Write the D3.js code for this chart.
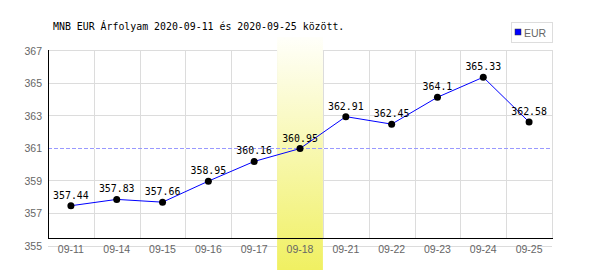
<!DOCTYPE html>
<html><head><meta charset="utf-8">
<script src="https://cdn.jsdelivr.net/npm/d3@7"></script>
<style>body{margin:0;background:#fff}svg{display:block}</style>
</head><body>
<script>
const titleText = "MNB EUR Árfolyam 2020-09-11 és 2020-09-25 között.";
const categories = ["09-11","09-14","09-15","09-16","09-17","09-18","09-21","09-22","09-23","09-24","09-25"];
const values = [357.44,357.83,357.66,358.95,360.16,360.95,362.91,362.45,364.1,365.33,362.58];
const valueLabels = ["357.44","357.83","357.66","358.95","360.16","360.95","362.91","362.45","364.1","365.33","362.58"];
const yTicks = [355,357,359,361,363,365,367];
const averageValue = 360.94;
const highlighted = "09-18";
const seriesName = "EUR";

const W = 600, H = 270;
const plotLeft = 48, plotRight = 552, plotTop = 50, axisY = 238;
const svg = d3.select("body").append("svg").attr("width", W).attr("height", H);

const defs = svg.append("defs");
const grad = defs.append("linearGradient").attr("id","hl").attr("x1",0).attr("y1",0).attr("x2",0).attr("y2",1);
grad.append("stop").attr("offset","0%").attr("stop-color","#fffffa");
grad.append("stop").attr("offset","100%").attr("stop-color","#f0f062");

const x = d3.scaleBand().domain(categories).range([plotLeft, plotRight]).padding(0);
const y = d3.scaleLinear().domain([355, 367]).range([245.5, plotTop]);

// title
svg.append("text").attr("x", 53).attr("y", 29.5)
  .attr("font-family","DejaVu Sans Mono, monospace").attr("font-size", 9.9)
  .attr("fill","#000").text(titleText);

// legend
const lg = svg.append("g");
lg.append("rect").attr("x",511.5).attr("y",22.5).attr("width",41).attr("height",20)
  .attr("fill","#fff").attr("stroke","#dddddd").attr("shape-rendering","crispEdges");
lg.append("rect").attr("x",515).attr("y",29).attr("width",6).attr("height",6)
  .attr("fill","#0000ff").attr("stroke","#333").attr("stroke-width",0.5);
lg.append("text").attr("x",524).attr("y",36.5)
  .attr("font-family","Liberation Sans, Arial, sans-serif").attr("font-size",10.5)
  .attr("fill","#666").text(seriesName);

// gridlines
const grid = svg.append("g").attr("stroke","#dcdcdc").attr("stroke-width",1).attr("shape-rendering","crispEdges");
grid.selectAll("line.h").data(yTicks).join("line")
  .attr("x1", plotLeft).attr("x2", plotRight)
  .attr("y1", d => Math.round(y(d)) + 0.5).attr("y2", d => Math.round(y(d)) + 0.5);
const vx = categories.map(c => x(c)).concat([plotRight]);
grid.selectAll("line.v").data(vx).join("line")
  .attr("x1", d => Math.round(d) + 0.5).attr("x2", d => Math.round(d) + 0.5)
  .attr("y1", plotTop).attr("y2", axisY);

// highlight band
svg.append("rect").attr("x", x(highlighted)).attr("y", 37)
  .attr("width", x.bandwidth()).attr("height", H - 37).attr("fill","url(#hl)");

// average dashed line (on a white backing so the gaps are clear)
const avgY = Math.floor(y(averageValue)) + 0.5;
svg.append("line").attr("x1", plotLeft).attr("x2", x(highlighted))
  .attr("y1", avgY).attr("y2", avgY).attr("stroke","#fff").attr("shape-rendering","crispEdges");
svg.append("line").attr("x1", x(highlighted) + x.bandwidth()).attr("x2", plotRight)
  .attr("y1", avgY).attr("y2", avgY).attr("stroke","#fff").attr("shape-rendering","crispEdges");
svg.append("line").attr("x1", plotLeft).attr("x2", plotRight)
  .attr("y1", avgY).attr("y2", avgY)
  .attr("stroke","#9999ff").attr("stroke-dasharray","4,2").attr("shape-rendering","crispEdges");

// axes
svg.append("line").attr("x1", plotLeft + 0.5).attr("x2", plotLeft + 0.5).attr("y1", plotTop).attr("y2", axisY + 1)
  .attr("stroke","#000").attr("shape-rendering","crispEdges");
svg.append("line").attr("x1", plotLeft).attr("x2", plotRight + 1).attr("y1", axisY + 0.5).attr("y2", axisY + 0.5)
  .attr("stroke","#000").attr("shape-rendering","crispEdges");

// y tick labels
svg.append("g").selectAll("text").data(yTicks).join("text")
  .attr("x", 42).attr("y", d => y(d) + 4.5).attr("text-anchor","end")
  .attr("font-family","Liberation Sans, Arial, sans-serif").attr("font-size",10.5)
  .attr("fill","#666").text(d => d);

// x tick labels
svg.append("g").selectAll("text").data(categories).join("text")
  .attr("x", d => x(d) + x.bandwidth()/2).attr("y", 253).attr("text-anchor","middle")
  .attr("font-family","Liberation Sans, Arial, sans-serif").attr("font-size",10.5)
  .attr("fill","#666").text(d => d);

// line
const pts = categories.map((c,i) => [x(c) + x.bandwidth()/2, y(values[i])]);
svg.append("path").attr("d", d3.line()(pts)).attr("fill","none").attr("stroke","#0000ff").attr("stroke-width",1);

// points
svg.append("g").selectAll("circle").data(pts).join("circle")
  .attr("cx", d => d[0]).attr("cy", d => d[1]).attr("r", 3.5).attr("fill","#000");

// value labels
svg.append("g").selectAll("text").data(pts).join("text")
  .attr("x", d => d[0]).attr("y", d => d[1] - 7).attr("text-anchor","middle")
  .attr("font-family","DejaVu Sans Mono, monospace").attr("font-size",9.9)
  .attr("fill","#000").text((d,i) => valueLabels[i]);
</script>
</body></html>
